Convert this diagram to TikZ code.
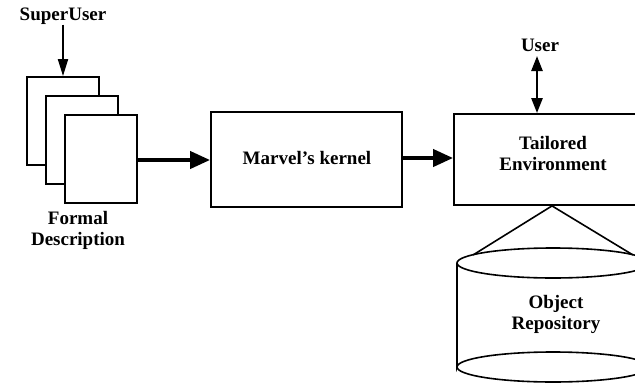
\documentclass[tikz,border=0pt]{standalone}
\usepackage{fontspec}
\setmainfont{Liberation Serif}
\usetikzlibrary{arrows.meta}
\begin{document}
\begin{tikzpicture}[x=1pt,y=-1pt,
  lbl/.style={font=\fontsize{19}{21}\selectfont\bfseries, align=center, inner sep=0pt},
  page/.style={draw, line width=1.8pt, fill=white, minimum width=72pt, minimum height=88pt, inner sep=0pt},
  box/.style={draw, line width=1.8pt, fill=white, inner sep=0pt},
  thick arrow/.style={line width=4pt, -{Triangle[length=20pt,width=17pt]}},
  thin arrow/.style={line width=2pt, -{Triangle[length=17pt,width=10pt]}},
  both arrow/.style={line width=2.4pt, {Triangle[length=15pt,width=11pt]}-{Triangle[length=15pt,width=11pt]}},
  edge line/.style={line width=1.6pt}]
\clip (0,0) rectangle (635,383);
\useasboundingbox (0,0) rectangle (635,383);

\node[lbl] (su) at (63,16) {SuperUser};
\node[page] (p1) at (63,121) {};
\node[page] (p2) at (82,140) {};
\node[page] (p3) at (101,159) {};
\node[lbl] (fd) at (78,230) {Formal\\Description};

\node[box, minimum width=191pt, minimum height=95pt] (k) at (306.5,159.5) {};
\node[lbl] (kt) at (307,158) {Marvel's kernel};

\node[box, minimum width=196pt, minimum height=91pt] (te) at (552,159.5) {};
\node[lbl] (tet) at (553,153) {Tailored\\Environment};
\node[lbl] (u) at (540,45) {User};

\draw[thin arrow] (su.south) -- (p1.north -| su.south);
\draw[thick arrow] (p3.east |- 0,160) -- (k.west |- 0,160);
\draw[thick arrow] (k.east |- 0,158) -- (te.west |- 0,158);
\draw[both arrow] (537,56) -- (te.north -| 537,0);

% cylinder
\coordinate (ctop) at (553,263);
\coordinate (cbot) at (553,367);
\coordinate (tl) at (473,255);
\coordinate (tr) at (633,255);
\draw[edge line] (tl) -- (te.south) -- (tr);
\draw[edge line] (ctop) ellipse [x radius=96, y radius=15];
\draw[edge line] (457,263) -- (457,367) arc[start angle=180, end angle=360, x radius=96, y radius=15] -- (649,263);
\draw[edge line] (457,367) arc[start angle=180, end angle=0, x radius=96, y radius=15];
\node[lbl] (or) at (556,314) {Object\\Repository};
\end{tikzpicture}
\end{document}
